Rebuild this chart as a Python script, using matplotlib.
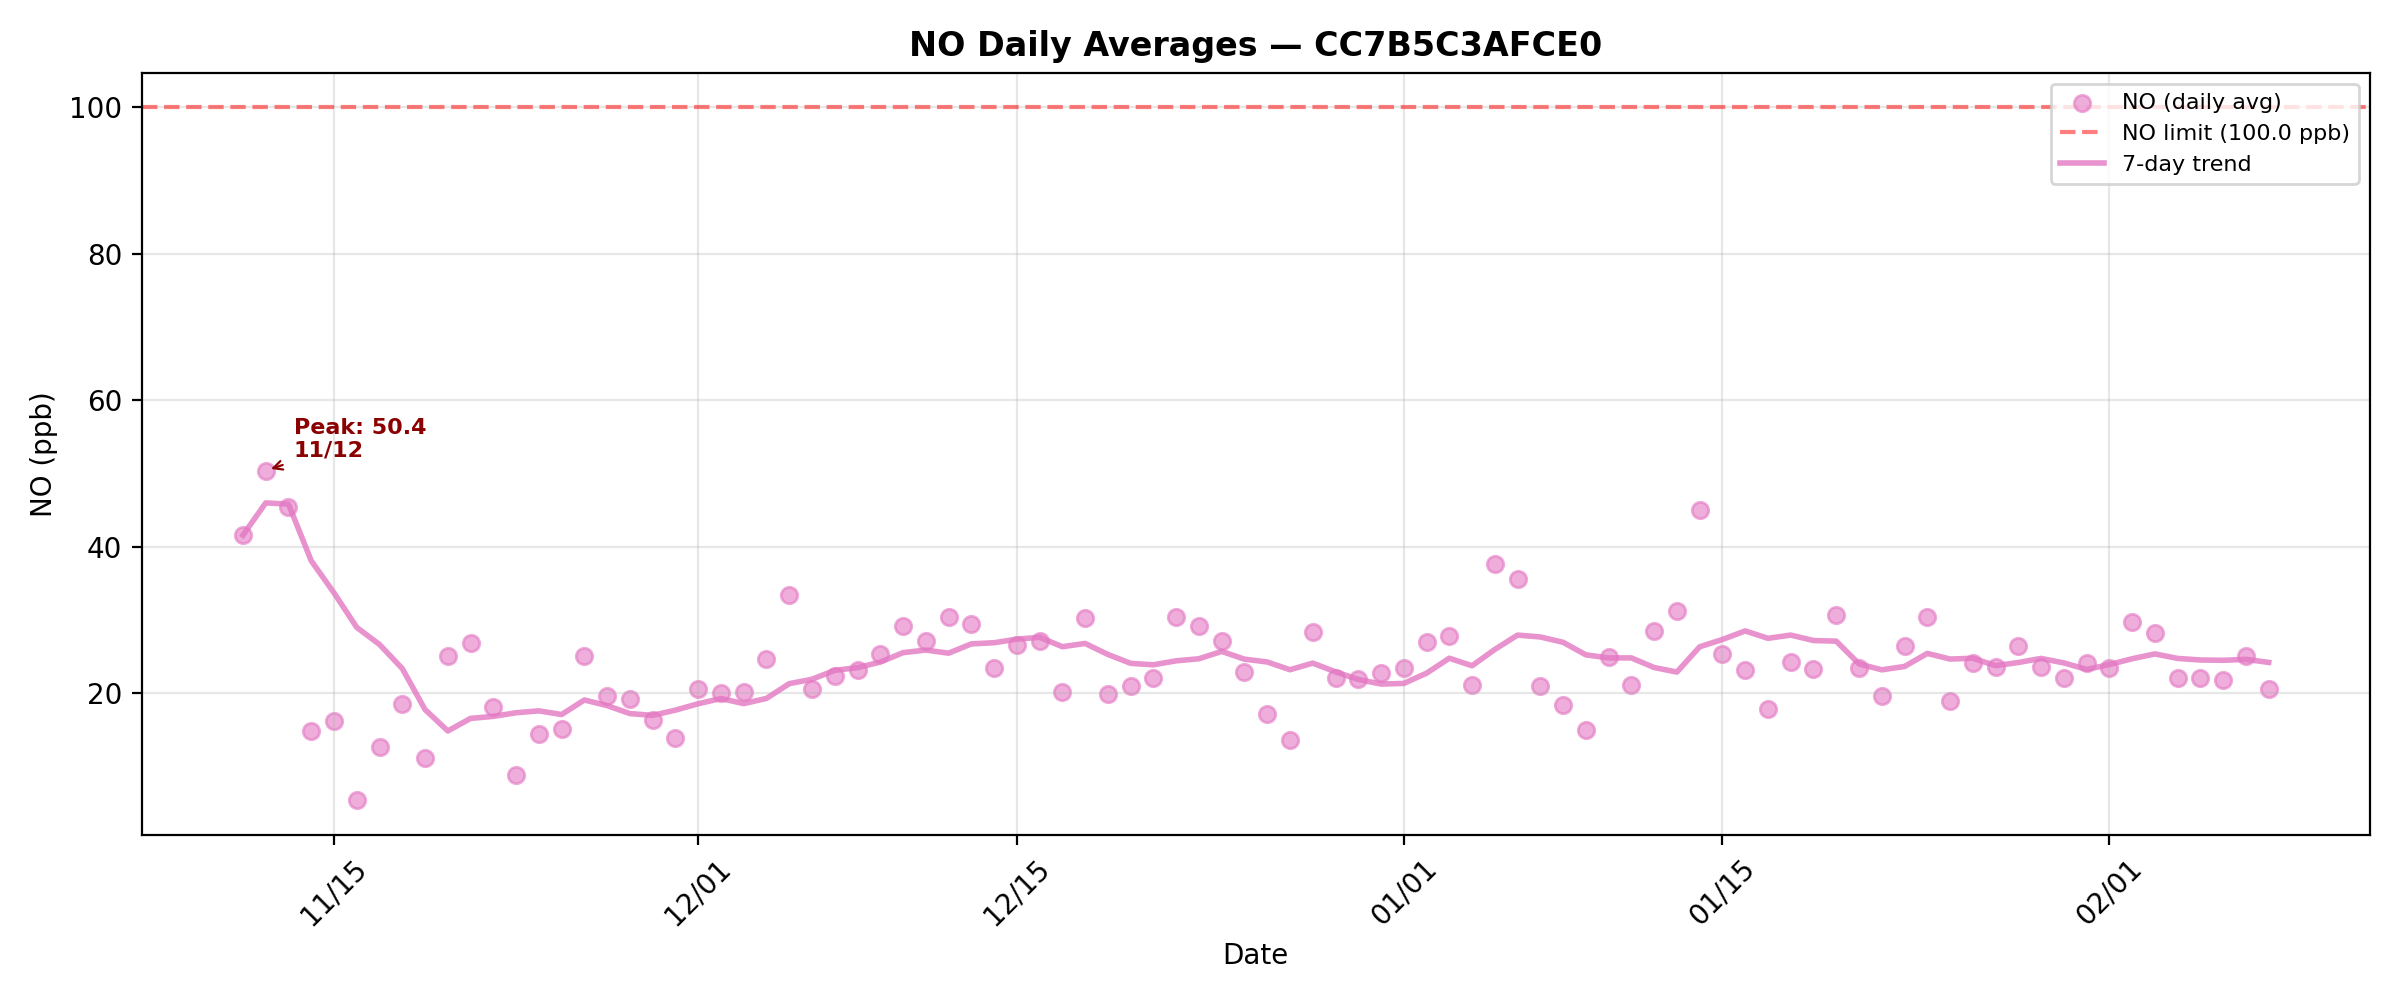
import numpy as np
import pandas as pd
import matplotlib
matplotlib.use("Agg")
import matplotlib.pyplot as plt
import matplotlib.dates as mdates

# daily averages, 2024-11-11 .. 2025-02-08
start_date = "2024-11-11"
nov_vals = [41.6, 50.4, 45.5, 14.9, 16.2, 5.4, 12.7, 18.6, 11.2, 25.1,
            26.9, 18.1, 8.9, 14.5, 15.1, 25.1, 19.7, 19.3, 16.4, 13.9]
dec_vals = [20.6, 20.1, 20.2, 24.7, 33.4, 20.6, 22.4, 23.2, 25.4, 29.2,
            27.2, 30.4, 29.5, 23.5, 26.6, 27.2, 20.2, 30.3, 19.9, 21.0,
            22.1, 30.4, 29.2, 27.2, 22.9, 17.2, 13.6, 28.4, 22.1, 21.9, 22.8]
jan_vals = [23.5, 27.0, 27.9, 21.2, 37.7, 35.6, 21.0, 18.4, 15.0, 25.0,
            21.2, 28.5, 31.3, 45.1, 25.4, 23.2, 17.9, 24.3, 23.3, 30.7,
            23.4, 19.7, 26.4, 30.4, 18.9, 24.1, 23.6, 26.4, 23.6, 22.1, 24.2]
feb_vals = [23.5, 29.7, 28.2, 22.1, 22.1, 21.8, 25.1, 20.6]

limit = 100.0
sensor = "CC7B5C3AFCE0"

values = nov_vals + dec_vals + jan_vals + feb_vals
dates = pd.date_range(start_date, periods=len(values), freq="D")
daily = pd.Series(values, index=dates)
trend = daily.rolling(7, min_periods=1).mean()

color = "#e377c2"

fig, ax = plt.subplots(figsize=(12, 5), dpi=200)

ax.scatter(daily.index, daily.values, s=35, color=color, alpha=0.6,
           label="NO (daily avg)")
ax.axhline(limit, color="red", linestyle="--", alpha=0.5, linewidth=1.5,
           label=f"NO limit ({limit:.1f} ppb)")
ax.plot(trend.index, trend.values, color=color, linewidth=2, alpha=0.8,
        label="7-day trend")

# mark the peak day
peak_day = daily.idxmax()
peak_val = daily.max()
ax.annotate(f"Peak: {peak_val:.1f}\n{peak_day:%m/%d}",
            xy=(peak_day, peak_val), xytext=(10, 5),
            textcoords="offset points", fontsize=8, fontweight="bold",
            color="darkred",
            arrowprops=dict(arrowstyle="->", color="darkred", lw=0.8))

ax.set_title(f"NO Daily Averages \u2014 {sensor}", fontsize=12,
             fontweight="bold")
ax.set_xlabel("Date")
ax.set_ylabel("NO (ppb)")
ax.grid(True, alpha=0.3)
ax.legend(loc="upper right", fontsize=8)

ax.xaxis.set_major_locator(mdates.DayLocator(bymonthday=[1, 15]))
ax.xaxis.set_major_formatter(mdates.DateFormatter("%m/%d"))
plt.setp(ax.get_xticklabels(), rotation=45)

plt.tight_layout()
plt.savefig("out.png", dpi=200)
